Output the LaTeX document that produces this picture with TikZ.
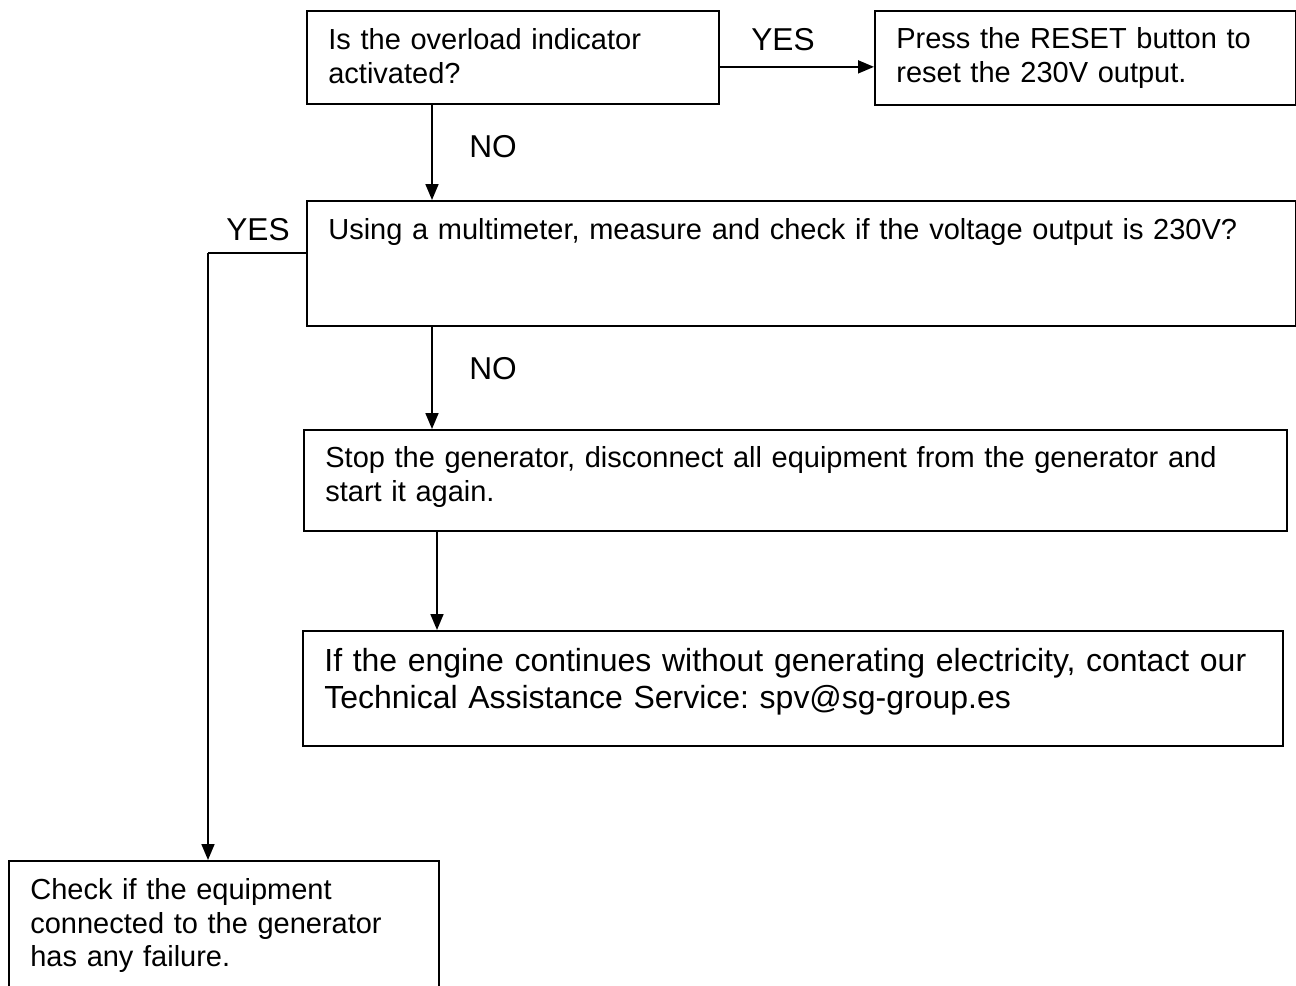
\documentclass[tikz,border=0pt]{standalone}
\usepackage{fontspec}
\setmainfont{Liberation Sans}
\usetikzlibrary{arrows.meta}
\frenchspacing

\begin{document}
\begin{tikzpicture}[
    x=0.02cm,
    y=-0.02cm,
    stepbox/.style={draw, line width=1pt, anchor=north west, inner xsep=0.43cm,
      inner ysep=0pt, align=left, font=\fontsize{16.5}{19}\selectfont},
    conn/.style={line width=1pt, -{Triangle[length=0.32cm,width=0.26cm]}},
    lbl/.style={anchor=base, inner sep=0pt, font=\fontsize{18}{20}\selectfont}
]
  \useasboundingbox (0,0) rectangle (1296,985);
  % boxes
  \node[stepbox, text width=7.38cm, text height=0.78cm, text depth=1.08cm] (overload) at (306,10)
    {Is the overload indicator\\activated?};
  \node[stepbox, text width=7.56cm, text height=0.76cm, text depth=1.12cm] (reset) at (874,10)
    {Press the RESET button to\\reset the 230V output.};
  \node[stepbox, text width=18.92cm, text height=0.78cm, text depth=1.72cm] (measure) at (306,200)
    {Using a multimeter, measure and check if the voltage output is 230V?};
  \node[stepbox, text width=18.8cm, text height=0.76cm, text depth=1.26cm] (restart) at (303,429)
    {Stop the generator, disconnect all equipment from the generator and\\start it again.};
  \node[stepbox, text width=18.74cm, text height=0.82cm, text depth=1.48cm,
    font=\fontsize{18.2}{20.6}\selectfont] (contact) at (302,630)
    {If the engine continues without generating electricity, contact our\\Technical Assistance Service: spv@sg-group.es};
  \node[stepbox, text width=7.74cm, text height=0.78cm, text depth=3cm] (failure) at (8,860)
    {Check if the equipment\\connected to the generator\\has any failure.};
  % labels
  \node[lbl] (yesreset) at (783,50) {YES};
  \node[lbl] (noa) at (493,157) {NO};
  \node[lbl] (yesfail) at (258,240) {YES};
  \node[lbl] (nob) at (493,379) {NO};
  % connectors
  \coordinate (trunka) at (432,0);
  \coordinate (trunkb) at (437,0);
  \coordinate (yesbend) at (208,253);
  \draw[conn] ([yshift=-0.19cm]overload.east) -- ([yshift=-0.19cm]overload.east -| reset.west);
  \draw[conn] (overload.south -| trunka) -- (measure.north -| trunka);
  \draw[conn] (measure.south -| trunka) -- (restart.north -| trunka);
  \draw[conn] (restart.south -| trunkb) -- (contact.north -| trunkb);
  \draw[line width=1.5pt] (measure.west |- yesbend) -- (yesbend);
  \draw[conn] (yesbend) -- (failure.north -| yesbend);
\end{tikzpicture}
\end{document}
